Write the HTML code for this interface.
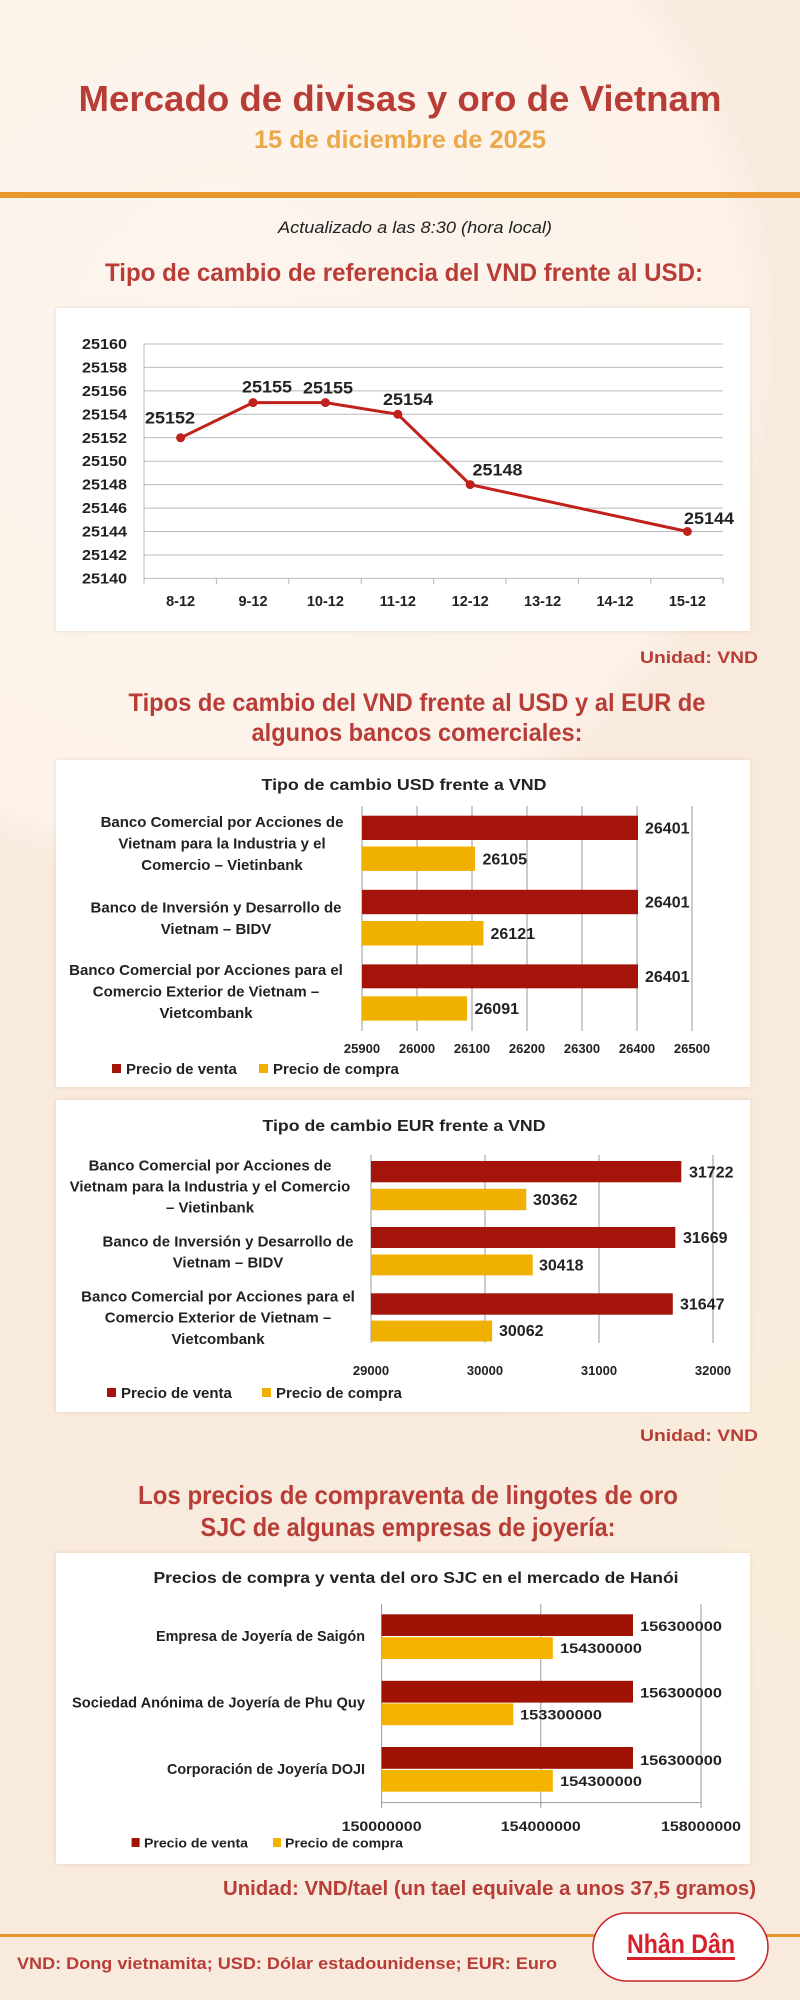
<!DOCTYPE html>
<html><head><meta charset="utf-8"><style>
html,body{margin:0;padding:0;background:#f8eadd;}
svg{display:block;font-family:"Liberation Sans",sans-serif;}
</style></head><body>
<svg width="800" height="2000" viewBox="0 0 800 2000" xmlns="http://www.w3.org/2000/svg">
<defs>
<radialGradient id="bg1" cx="220" cy="330" r="560" gradientUnits="userSpaceOnUse">
<stop offset="0" stop-color="#fdf5ee"/><stop offset="0.93" stop-color="#fcf2e9"/><stop offset="1" stop-color="#f8eadd"/>
</radialGradient>
<radialGradient id="bg2" cx="900" cy="1500" r="420" gradientUnits="userSpaceOnUse">
<stop offset="0" stop-color="#fcf1d8"/><stop offset="1" stop-color="#f8eadd" stop-opacity="0"/>
</radialGradient>
<filter id="sh" x="-5%" y="-5%" width="110%" height="110%"><feDropShadow dx="0" dy="0" stdDeviation="2" flood-color="#c9a88a" flood-opacity="0.35"/></filter>
</defs>
<rect width="800" height="2000" fill="#f8eadd"/>
<rect width="800" height="2000" fill="url(#bg1)"/>
<rect width="800" height="2000" fill="url(#bg2)"/>

<text x="400" y="111" text-anchor="middle" font-size="36" font-weight="bold" fill="#b83d36" textLength="643" lengthAdjust="spacingAndGlyphs">Mercado de divisas y oro de Vietnam</text>
<text x="400" y="148" text-anchor="middle" font-size="25" font-weight="bold" fill="#eba84a" textLength="292" lengthAdjust="spacingAndGlyphs">15 de diciembre de 2025</text>
<rect x="0" y="192" width="800" height="6" fill="#e9962c"/>
<text x="415" y="233" text-anchor="middle" font-size="17" font-style="italic" fill="#222" textLength="274" lengthAdjust="spacingAndGlyphs">Actualizado a las 8:30 (hora local)</text>
<text x="404" y="281" text-anchor="middle" font-size="25" font-weight="bold" fill="#b83d36" textLength="598" lengthAdjust="spacingAndGlyphs">Tipo de cambio de referencia del VND frente al USD:</text>

<rect x="56" y="308" width="694" height="323" fill="#fff" filter="url(#sh)"/>
<g stroke="#b8b8bf" stroke-width="1">
<line x1="144" y1="344" x2="723" y2="344"/><line x1="144" y1="367.4" x2="723" y2="367.4"/>
<line x1="144" y1="390.9" x2="723" y2="390.9"/><line x1="144" y1="414.3" x2="723" y2="414.3"/>
<line x1="144" y1="437.8" x2="723" y2="437.8"/><line x1="144" y1="461.2" x2="723" y2="461.2"/>
<line x1="144" y1="484.6" x2="723" y2="484.6"/><line x1="144" y1="508.1" x2="723" y2="508.1"/>
<line x1="144" y1="531.5" x2="723" y2="531.5"/><line x1="144" y1="555" x2="723" y2="555"/>
<line x1="144" y1="578.4" x2="723" y2="578.4"/>
<line x1="144" y1="344" x2="144" y2="584"/>
<line x1="216.4" y1="578" x2="216.4" y2="584"/><line x1="288.8" y1="578" x2="288.8" y2="584"/>
<line x1="361.2" y1="578" x2="361.2" y2="584"/><line x1="433.6" y1="578" x2="433.6" y2="584"/>
<line x1="506" y1="578" x2="506" y2="584"/><line x1="578.4" y1="578" x2="578.4" y2="584"/>
<line x1="650.8" y1="578" x2="650.8" y2="584"/><line x1="723" y1="578" x2="723" y2="584"/>
</g>
<g font-size="14.5" font-weight="bold" fill="#222" text-anchor="end">
<text x="127" y="349" textLength="45" lengthAdjust="spacingAndGlyphs">25160</text>
<text x="127" y="372.4" textLength="45" lengthAdjust="spacingAndGlyphs">25158</text>
<text x="127" y="395.9" textLength="45" lengthAdjust="spacingAndGlyphs">25156</text>
<text x="127" y="419.3" textLength="45" lengthAdjust="spacingAndGlyphs">25154</text>
<text x="127" y="442.8" textLength="45" lengthAdjust="spacingAndGlyphs">25152</text>
<text x="127" y="466.2" textLength="45" lengthAdjust="spacingAndGlyphs">25150</text>
<text x="127" y="489.6" textLength="45" lengthAdjust="spacingAndGlyphs">25148</text>
<text x="127" y="513.1" textLength="45" lengthAdjust="spacingAndGlyphs">25146</text>
<text x="127" y="536.5" textLength="45" lengthAdjust="spacingAndGlyphs">25144</text>
<text x="127" y="560" textLength="45" lengthAdjust="spacingAndGlyphs">25142</text>
<text x="127" y="583.4" textLength="45" lengthAdjust="spacingAndGlyphs">25140</text>
</g>
<g font-size="14.5" font-weight="bold" fill="#222" text-anchor="middle">
<text x="180.6" y="606">8-12</text><text x="253" y="606">9-12</text>
<text x="325.4" y="606">10-12</text><text x="397.8" y="606">11-12</text>
<text x="470.2" y="606">12-12</text><text x="542.6" y="606">13-12</text>
<text x="615" y="606">14-12</text><text x="687.4" y="606">15-12</text>
</g>
<polyline points="180.6,437.8 253,402.6 325.4,402.6 397.8,414.3 470.2,484.6 687.4,531.5" fill="none" stroke="#c0221b" stroke-width="3"/>
<g fill="#c0221b">
<circle cx="180.6" cy="437.8" r="4.5"/><circle cx="253" cy="402.6" r="4.5"/><circle cx="325.4" cy="402.6" r="4.5"/>
<circle cx="397.8" cy="414.3" r="4.5"/><circle cx="470.2" cy="484.6" r="4.5"/><circle cx="687.4" cy="531.5" r="4.5"/>
</g>
<g font-size="17" font-weight="bold" fill="#222" text-anchor="middle">
<text x="170" y="423.5" textLength="50" lengthAdjust="spacingAndGlyphs">25152</text>
<text x="267" y="392.5" textLength="50" lengthAdjust="spacingAndGlyphs">25155</text>
<text x="328" y="393.5" textLength="50" lengthAdjust="spacingAndGlyphs">25155</text>
<text x="408" y="405" textLength="50" lengthAdjust="spacingAndGlyphs">25154</text>
<text x="497.5" y="475.5" textLength="50" lengthAdjust="spacingAndGlyphs">25148</text>
<text x="709" y="524" textLength="50" lengthAdjust="spacingAndGlyphs">25144</text>
</g>
<text x="758" y="663" text-anchor="end" font-size="17" font-weight="bold" fill="#b83d36" textLength="118" lengthAdjust="spacingAndGlyphs">Unidad: VND</text>

<text x="417" y="711" text-anchor="middle" font-size="25" font-weight="bold" fill="#b83d36" textLength="577" lengthAdjust="spacingAndGlyphs">Tipos de cambio del VND frente al USD y al EUR de</text>
<text x="417" y="741" text-anchor="middle" font-size="25" font-weight="bold" fill="#b83d36" textLength="331" lengthAdjust="spacingAndGlyphs">algunos bancos comerciales:</text>

<rect x="56" y="760" width="694" height="327" fill="#fff" filter="url(#sh)"/>
<text x="404" y="790" text-anchor="middle" font-size="16" font-weight="bold" fill="#222" textLength="285" lengthAdjust="spacingAndGlyphs">Tipo de cambio USD frente a VND</text>
<g stroke="#9a9a9a" stroke-width="1">
<line x1="362" y1="806" x2="362" y2="1031"/><line x1="417" y1="806" x2="417" y2="1031"/>
<line x1="472" y1="806" x2="472" y2="1031"/><line x1="527" y1="806" x2="527" y2="1031"/>
<line x1="582" y1="806" x2="582" y2="1031"/><line x1="637" y1="806" x2="637" y2="1031"/>
<line x1="692" y1="806" x2="692" y2="1031"/>
</g>
<g fill="#a5140a">
<rect x="362" y="815.7" width="276" height="24.3"/>
<rect x="362" y="889.8" width="276" height="24.4"/>
<rect x="362" y="964.4" width="276" height="23.9"/>
</g>
<g fill="#f0b000">
<rect x="362" y="846.5" width="113" height="24.4"/>
<rect x="362" y="921" width="121.5" height="24.5"/>
<rect x="362" y="996.3" width="105" height="24.3"/>
</g>
<g font-size="16" font-weight="bold" fill="#222">
<text x="645" y="833.5">26401</text><text x="482.5" y="864.5">26105</text>
<text x="645" y="907.5">26401</text><text x="490.5" y="939">26121</text>
<text x="645" y="982">26401</text><text x="474.5" y="1014">26091</text>
</g>
<g font-size="15" font-weight="bold" fill="#222" text-anchor="middle">
<text x="222" y="827">Banco Comercial por Acciones de</text>
<text x="222" y="848.5">Vietnam para la Industria y el</text>
<text x="222" y="870">Comercio – Vietinbank</text>
<text x="216" y="912.5">Banco de Inversión y Desarrollo de</text>
<text x="216" y="934">Vietnam – BIDV</text>
<text x="206" y="975">Banco Comercial por Acciones para el</text>
<text x="206" y="996.5">Comercio Exterior de Vietnam –</text>
<text x="206" y="1018">Vietcombank</text>
</g>
<g font-size="13" font-weight="bold" fill="#222" text-anchor="middle">
<text x="362" y="1053">25900</text><text x="417" y="1053">26000</text><text x="472" y="1053">26100</text>
<text x="527" y="1053">26200</text><text x="582" y="1053">26300</text><text x="637" y="1053">26400</text>
<text x="692" y="1053">26500</text>
</g>
<rect x="112" y="1064" width="9" height="9" fill="#a5140a"/>
<text x="126" y="1074" font-size="15" font-weight="bold" fill="#222">Precio de venta</text>
<rect x="259" y="1064" width="9" height="9" fill="#f0b000"/>
<text x="273" y="1074" font-size="15" font-weight="bold" fill="#222">Precio de compra</text>

<rect x="56" y="1100" width="694" height="312" fill="#fff" filter="url(#sh)"/>
<text x="404" y="1131" text-anchor="middle" font-size="16" font-weight="bold" fill="#222" textLength="283" lengthAdjust="spacingAndGlyphs">Tipo de cambio EUR frente a VND</text>
<g stroke="#9a9a9a" stroke-width="1">
<line x1="371" y1="1155" x2="371" y2="1343"/><line x1="485" y1="1155" x2="485" y2="1343"/>
<line x1="599" y1="1155" x2="599" y2="1343"/><line x1="713" y1="1155" x2="713" y2="1343"/>
</g>
<g fill="#a5140a">
<rect x="371" y="1161" width="310.3" height="21.3"/>
<rect x="371" y="1227" width="304.3" height="21"/>
<rect x="371" y="1293.3" width="301.8" height="21.4"/>
</g>
<g fill="#f0b000">
<rect x="371" y="1188.8" width="155.3" height="21.4"/>
<rect x="371" y="1254.5" width="161.7" height="20.9"/>
<rect x="371" y="1320.6" width="121.1" height="20.9"/>
</g>
<g font-size="16" font-weight="bold" fill="#222">
<text x="689" y="1177.5">31722</text><text x="533" y="1205">30362</text>
<text x="683" y="1243">31669</text><text x="539" y="1270.5">30418</text>
<text x="680" y="1309.5">31647</text><text x="499" y="1336">30062</text>
</g>
<g font-size="15" font-weight="bold" fill="#222" text-anchor="middle">
<text x="210" y="1170.5">Banco Comercial por Acciones de</text>
<text x="210" y="1191.5">Vietnam para la Industria y el Comercio</text>
<text x="210" y="1212.5">– Vietinbank</text>
<text x="228" y="1246.5">Banco de Inversión y Desarrollo de</text>
<text x="228" y="1267.5">Vietnam – BIDV</text>
<text x="218" y="1301.5">Banco Comercial por Acciones para el</text>
<text x="218" y="1322.5">Comercio Exterior de Vietnam –</text>
<text x="218" y="1344">Vietcombank</text>
</g>
<g font-size="13" font-weight="bold" fill="#222" text-anchor="middle">
<text x="371" y="1375">29000</text><text x="485" y="1375">30000</text>
<text x="599" y="1375">31000</text><text x="713" y="1375">32000</text>
</g>
<rect x="107" y="1388" width="9" height="9" fill="#a5140a"/>
<text x="121" y="1398" font-size="15" font-weight="bold" fill="#222">Precio de venta</text>
<rect x="262" y="1388" width="9" height="9" fill="#f0b000"/>
<text x="276" y="1398" font-size="15" font-weight="bold" fill="#222">Precio de compra</text>
<text x="758" y="1441" text-anchor="end" font-size="17" font-weight="bold" fill="#b83d36" textLength="118" lengthAdjust="spacingAndGlyphs">Unidad: VND</text>

<text x="408" y="1504" text-anchor="middle" font-size="26" font-weight="bold" fill="#b83d36" textLength="540" lengthAdjust="spacingAndGlyphs">Los precios de compraventa de lingotes de oro</text>
<text x="408" y="1536" text-anchor="middle" font-size="26" font-weight="bold" fill="#b83d36" textLength="415" lengthAdjust="spacingAndGlyphs">SJC de algunas empresas de joyería:</text>

<rect x="56" y="1553" width="694" height="311" fill="#fff" filter="url(#sh)"/>
<text x="416" y="1583" text-anchor="middle" font-size="16" font-weight="bold" fill="#222" textLength="525" lengthAdjust="spacingAndGlyphs">Precios de compra y venta del oro SJC en el mercado de Hanói</text>
<g stroke="#9a9a9a" stroke-width="1">
<line x1="381.6" y1="1604" x2="381.6" y2="1808"/><line x1="540.8" y1="1604" x2="540.8" y2="1808"/>
<line x1="701" y1="1604" x2="701" y2="1808"/><line x1="381.6" y1="1802.6" x2="701" y2="1802.6"/>
</g>
<g fill="#a01204">
<rect x="381.6" y="1614.3" width="251.4" height="21.7"/>
<rect x="381.6" y="1680.8" width="251.4" height="21.8"/>
<rect x="381.6" y="1747" width="251.4" height="21.8"/>
</g>
<g fill="#f5b300">
<rect x="381.6" y="1637.2" width="171.2" height="21.8"/>
<rect x="381.6" y="1703.4" width="131.7" height="21.8"/>
<rect x="381.6" y="1769.9" width="171.2" height="21.8"/>
</g>
<g font-size="14" font-weight="bold" fill="#222">
<text x="640" y="1631" textLength="82" lengthAdjust="spacingAndGlyphs">156300000</text>
<text x="560" y="1653" textLength="82" lengthAdjust="spacingAndGlyphs">154300000</text>
<text x="640" y="1697.5" textLength="82" lengthAdjust="spacingAndGlyphs">156300000</text>
<text x="520" y="1719.5" textLength="82" lengthAdjust="spacingAndGlyphs">153300000</text>
<text x="640" y="1765" textLength="82" lengthAdjust="spacingAndGlyphs">156300000</text>
<text x="560" y="1786" textLength="82" lengthAdjust="spacingAndGlyphs">154300000</text>
</g>
<g font-size="15" font-weight="bold" fill="#222" text-anchor="end">
<text x="365" y="1641" textLength="209" lengthAdjust="spacingAndGlyphs">Empresa de Joyería de Saigón</text>
<text x="365" y="1707.5" textLength="293" lengthAdjust="spacingAndGlyphs">Sociedad Anónima de Joyería de Phu Quy</text>
<text x="365" y="1774" textLength="198" lengthAdjust="spacingAndGlyphs">Corporación de Joyería DOJI</text>
</g>
<g font-size="14" font-weight="bold" fill="#222" text-anchor="middle">
<text x="381.6" y="1831" textLength="80" lengthAdjust="spacingAndGlyphs">150000000</text>
<text x="540.8" y="1831" textLength="80" lengthAdjust="spacingAndGlyphs">154000000</text>
<text x="701" y="1831" textLength="80" lengthAdjust="spacingAndGlyphs">158000000</text>
</g>
<rect x="131.6" y="1838" width="8" height="9" fill="#a01204"/>
<text x="144" y="1847.5" font-size="13" font-weight="bold" fill="#222" textLength="104" lengthAdjust="spacingAndGlyphs">Precio de venta</text>
<rect x="273" y="1838" width="8" height="9" fill="#f5b300"/>
<text x="285" y="1847.5" font-size="13" font-weight="bold" fill="#222" textLength="118" lengthAdjust="spacingAndGlyphs">Precio de compra</text>

<text x="756" y="1895" text-anchor="end" font-size="20" font-weight="bold" fill="#b83d36" textLength="533" lengthAdjust="spacingAndGlyphs">Unidad: VND/tael (un tael equivale a unos 37,5 gramos)</text>

<rect x="0" y="1934" width="800" height="3" fill="#e9962c"/>
<text x="17" y="1969" font-size="17" font-weight="bold" fill="#b83d36" textLength="540" lengthAdjust="spacingAndGlyphs">VND: Dong vietnamita; USD: Dólar estadounidense; EUR: Euro</text>
<rect x="593" y="1913" width="175" height="68" rx="34" fill="#fff" stroke="#c9252b" stroke-width="1.5"/>
<text x="681" y="1953" text-anchor="middle" font-size="27" font-weight="bold" fill="#d6202a" textLength="108" lengthAdjust="spacingAndGlyphs">Nhân Dân</text>
<rect x="627" y="1957" width="108" height="3" fill="#d6202a"/>
</svg>
</body></html>
